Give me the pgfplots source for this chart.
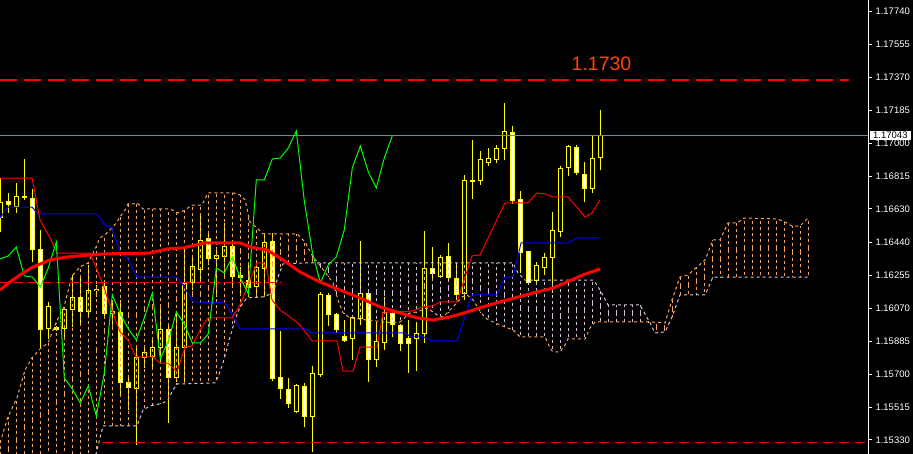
\documentclass[border=0pt]{standalone}
\usepackage{fontspec}
\setmainfont{Liberation Sans}
\usepackage{pgfplots}
\pgfplotsset{compat=1.18}
\usepackage{pgfplotstable}

\definecolor{cyellow}{RGB}{255,255,0}
\definecolor{sandy}{RGB}{244,164,96}
\definecolor{thist}{RGB}{216,191,216}
\definecolor{pgray}{RGB}{119,136,153}
\definecolor{lblred}{RGB}{255,69,0}
\definecolor{cgreen}{RGB}{0,255,0}
\definecolor{cblue}{RGB}{0,0,255}
\definecolor{cred}{RGB}{255,0,0}

% k O H L C  (bullish candles)
\pgfplotstableread{
k O H L C
0 1.16585 1.16804 1.16501 1.16669
2 1.16647 1.16776 1.16607 1.16698
3 1.16698 1.16911 1.16681 1.16703
6 1.15955 1.16107 1.15899 1.16084
8 1.15960 1.16079 1.15893 1.16067
9 1.16067 1.16259 1.15966 1.16135
11 1.16056 1.16315 1.16017 1.16169
12 1.16174 1.16202 1.16135 1.16180
14 1.16045 1.16118 1.15977 1.16056
17 1.15623 1.15853 1.15302 1.15797
18 1.15797 1.15853 1.15735 1.15825
19 1.15797 1.15910 1.15741 1.15853
20 1.15853 1.16090 1.15763 1.15955
22 1.15685 1.16050 1.15656 1.15853
23 1.15853 1.16416 1.15651 1.16214
24 1.16214 1.16371 1.16174 1.16309
25 1.16292 1.16607 1.16214 1.16456
27 1.16349 1.16416 1.16135 1.16366
28 1.16360 1.16551 1.16247 1.16416
32 1.16191 1.16332 1.16135 1.16298
33 1.16298 1.16495 1.16135 1.16444
37 1.15488 1.15645 1.15482 1.15634
39 1.15465 1.15747 1.15263 1.15707
40 1.15696 1.16163 1.15685 1.16146
44 1.15899 1.16022 1.15780 1.16017
45 1.16017 1.16450 1.15977 1.16157
47 1.15786 1.15994 1.15741 1.15887
48 1.15882 1.16135 1.15837 1.16050
52 1.15904 1.15994 1.15718 1.15927
53 1.15927 1.16506 1.15876 1.16298
55 1.16253 1.16371 1.16242 1.16360
58 1.16152 1.16821 1.16118 1.16793
59 1.16788 1.17018 1.16686 1.16793
60 1.16788 1.16956 1.16765 1.16911
61 1.16894 1.16973 1.16872 1.16917
62 1.16911 1.16990 1.16889 1.16973
63 1.16973 1.17226 1.16906 1.17069
67 1.16230 1.16332 1.16208 1.16315
68 1.16304 1.16382 1.16259 1.16360
69 1.16360 1.16613 1.16157 1.16512
70 1.16506 1.16872 1.16472 1.16861
71 1.16861 1.16990 1.16816 1.16984
74 1.16748 1.17041 1.16720 1.16917
75 1.16917 1.17187 1.16849 1.17043
}\bull

% k O H L C  (bearish candles)
\pgfplotstableread{
k O H L C
1 1.16675 1.16720 1.16607 1.16658
4 1.16692 1.16743 1.16332 1.16405
5 1.16405 1.16512 1.15848 1.15955
7 1.15966 1.15972 1.15944 1.15955
10 1.16135 1.16259 1.15977 1.16056
13 1.16191 1.16214 1.16028 1.16039
15 1.16045 1.16118 1.15572 1.15656
16 1.15656 1.15685 1.15499 1.15623
21 1.15955 1.15989 1.15426 1.15685
26 1.16461 1.16501 1.16315 1.16349
29 1.16422 1.16456 1.16202 1.16253
30 1.16259 1.16304 1.16157 1.16247
31 1.16230 1.16315 1.16135 1.16191
34 1.16450 1.16495 1.15662 1.15679
35 1.15679 1.15944 1.15561 1.15617
36 1.15617 1.15679 1.15510 1.15538
38 1.15634 1.15651 1.15403 1.15465
41 1.16146 1.16157 1.15972 1.16039
42 1.16039 1.16045 1.15932 1.15955
43 1.15910 1.16005 1.15882 1.15893
46 1.16157 1.16163 1.15656 1.15786
49 1.16045 1.16050 1.15910 1.15983
50 1.15977 1.15983 1.15831 1.15876
51 1.15904 1.16005 1.15707 1.15876
54 1.16298 1.16416 1.16230 1.16270
56 1.16360 1.16439 1.16219 1.16242
57 1.16242 1.16326 1.16118 1.16152
64 1.17063 1.17097 1.16658 1.16675
65 1.16681 1.16731 1.16270 1.16388
66 1.16388 1.16391 1.16208 1.16214
72 1.16979 1.16990 1.16821 1.16838
73 1.16827 1.16894 1.16669 1.16748
}\bear

% Ichimoku cloud per bar: k SpanA SpanB  (A above B)
\pgfplotstableread{
k A B
0 1.15320 1.15100
1 1.15460 1.15100
2 1.15560 1.15100
3 1.15710 1.15100
4 1.15792 1.15100
5 1.15842 1.15100
6 1.15876 1.15100
7 1.15989 1.15100
8 1.16079 1.15100
9 1.16253 1.15100
10 1.16304 1.15100
11 1.16326 1.15100
12 1.16416 1.15258
13 1.16480 1.15409
14 1.16523 1.15409
15 1.16585 1.15409
16 1.16658 1.15409
17 1.16663 1.15409
18 1.16630 1.15503
19 1.16630 1.15524
20 1.16630 1.15534
21 1.16630 1.15555
22 1.16612 1.15640
23 1.16622 1.15648
24 1.16652 1.15648
25 1.16652 1.15648
26 1.16720 1.15648
27 1.16720 1.15660
28 1.16720 1.15790
29 1.16720 1.15960
30 1.16709 1.16079
31 1.16598 1.16129
32 1.16523 1.16132
33 1.16490 1.16135
34 1.16490 1.16150
35 1.16490 1.16290
36 1.16490 1.16326
37 1.16490 1.16326
38 1.16448 1.16326
39 1.16368 1.16326
82 1.15992 1.15940
83 1.15989 1.15938
84 1.16118 1.16022
85 1.16247 1.16146
86 1.16259 1.16146
87 1.16304 1.16146
88 1.16343 1.16146
89 1.16456 1.16247
90 1.16456 1.16247
91 1.16551 1.16247
92 1.16551 1.16247
93 1.16579 1.16247
94 1.16578 1.16247
95 1.16578 1.16247
96 1.16578 1.16247
97 1.16576 1.16247
98 1.16557 1.16247
99 1.16534 1.16247
100 1.16534 1.16247
101 1.16579 1.16247
}\cloudO

% Ichimoku cloud per bar: k SpanA SpanB  (B above A)
\pgfplotstableread{
k A B
40 1.16300 1.16326
41 1.16250 1.16326
42 1.16150 1.16326
43 1.16040 1.16326
44 1.16016 1.16326
45 1.16010 1.16326
46 1.16004 1.16326
47 1.16000 1.16326
48 1.15995 1.16326
49 1.15990 1.16326
50 1.15994 1.16326
51 1.16037 1.16326
52 1.16050 1.16326
53 1.16067 1.16326
54 1.16052 1.16326
55 1.16027 1.16326
56 1.16050 1.16326
57 1.16105 1.16326
58 1.16140 1.16326
59 1.16121 1.16326
60 1.16050 1.16326
61 1.16008 1.16326
62 1.15985 1.16326
63 1.15966 1.16326
64 1.15949 1.16326
65 1.15910 1.16235
66 1.15910 1.16230
67 1.15910 1.16230
68 1.15910 1.16230
69 1.15830 1.16230
70 1.15825 1.16230
71 1.15899 1.16230
72 1.15899 1.16230
73 1.15899 1.16230
74 1.15975 1.16230
75 1.15994 1.16174
76 1.15994 1.16090
77 1.15994 1.16090
78 1.15994 1.16090
79 1.15994 1.16090
80 1.15994 1.16090
81 1.15994 1.16000
}\cloudT

\pgfplotsset{
  wick/.style={draw=none, mark=none, forget plot,
    error bars/.cd, y dir=both, y explicit, error mark=none,
    error bar style={draw=cyellow, line width=1pt, solid}},
  bodyout/.style={draw=none, mark=none, forget plot,
    error bars/.cd, y dir=both, y explicit, error mark=none,
    error bar style={draw=cyellow, line width=5pt, solid}},
  bodyin/.style={draw=none, mark=none, forget plot,
    error bars/.cd, y dir=both, y explicit, error mark=none,
    error bar style={draw=#1, line width=3pt, solid}},
  cloudbar/.style={draw=none, mark=none, forget plot,
    error bars/.cd, y dir=both, y explicit, error mark=none,
    error bar style={draw=#1, line width=1pt, dash pattern=on 3pt off 3pt}},
}

\begin{document}
\begin{tikzpicture}
\fill[black] (0,0) rectangle (913pt,454pt);
\begin{axis}[
  at={(0pt,0pt)}, anchor=south west,
  scale only axis, width=868pt, height=454pt,
  xmin=-0.0375, xmax=108.46, ymin=1.15251, ymax=1.17806,
  axis x line=none, axis y line*=right,
  axis line style={white, line width=1pt},
  ytick={1.15330,1.15515,1.15700,1.15885,1.16070,1.16255,1.16440,1.16630,1.16815,1.17000,1.17185,1.17370,1.17555,1.17740},
  scaled y ticks=false,
  yticklabel style={text=white, font=\fontsize{9.5}{10}\selectfont,
    /pgf/number format/fixed, /pgf/number format/fixed zerofill,
    /pgf/number format/precision=5, /pgf/number format/assume math mode=true},
  major tick length=4pt, tick align=outside,
  ytick style={white, line width=1pt},
  clip=true,
]
% ---- candles
\addplot[wick] table[x=k, y expr={(\thisrow{H}+\thisrow{L})/2}, y error expr={(\thisrow{H}-\thisrow{L})/2}] {\bull};
\addplot[wick] table[x=k, y expr={(\thisrow{H}+\thisrow{L})/2}, y error expr={(\thisrow{H}-\thisrow{L})/2}] {\bear};
\addplot[bodyout] table[x=k, y expr={(\thisrow{O}+\thisrow{C})/2}, y error expr={abs(\thisrow{C}-\thisrow{O})/2+0.0000281}] {\bull};
\addplot[bodyout] table[x=k, y expr={(\thisrow{O}+\thisrow{C})/2}, y error expr={abs(\thisrow{C}-\thisrow{O})/2+0.0000281}] {\bear};
\addplot[bodyin=black] table[x=k, y expr={(\thisrow{O}+\thisrow{C})/2}, y error expr={max(abs(\thisrow{C}-\thisrow{O})/2-0.0000281,0)}] {\bull};
\addplot[bodyin=white] table[x=k, y expr={(\thisrow{O}+\thisrow{C})/2}, y error expr={max(abs(\thisrow{C}-\thisrow{O})/2-0.0000281,0)}] {\bear};

% ---- Ichimoku cloud hatching (one dashed bar per period)
\addplot[cloudbar=sandy] table[x=k, y expr={(\thisrow{A}+\thisrow{B})/2}, y error expr={abs(\thisrow{A}-\thisrow{B})/2}] {\cloudO};
\addplot[cloudbar=thist] table[x=k, y expr={(\thisrow{A}+\thisrow{B})/2}, y error expr={abs(\thisrow{A}-\thisrow{B})/2}] {\cloudT};

% ---- Senkou span A and B
\addplot[sandy, line width=1pt, dash pattern=on 3pt off 3pt] coordinates {
(-0.04,1.15313) (0.96,1.15460) (2.09,1.15567) (3.09,1.15724) (3.96,1.15792) (4.96,1.15842) (5.96,1.15876) (6.96,1.15989) (7.96,1.16079) (8.96,1.16253) (9.96,1.16304) (10.96,1.16326) (11.96,1.16416) (12.46,1.16467) (13.09,1.16484) (13.96,1.16523) (14.59,1.16557) (14.96,1.16585) (15.59,1.16624) (15.96,1.16658) (16.59,1.16658) (17.09,1.16664) (17.84,1.16630) (21.21,1.16630) (22.21,1.16607) (23.09,1.16624) (23.96,1.16652) (25.21,1.16652) (25.96,1.16720) (29.09,1.16720) (29.96,1.16709) (30.59,1.16681) (31.21,1.16557) (32.09,1.16523) (32.84,1.16490) (37.09,1.16490) (38.09,1.16444) (39.09,1.16360) (39.71,1.16326) (40.59,1.16275) (41.59,1.16214) (42.21,1.16118) (42.84,1.16045) (43.71,1.16017) (45.84,1.16005) (49.09,1.15989) (49.96,1.15994) (51.21,1.16045) (52.09,1.16050) (53.34,1.16073) (54.59,1.16034) (55.34,1.16022) (55.96,1.16050) (56.84,1.16090) (57.71,1.16135) (58.34,1.16146) (59.09,1.16118) (59.71,1.16073) (60.59,1.16017) (61.59,1.15994) (63.09,1.15966) (64.09,1.15949) (64.96,1.15910) (68.09,1.15910) (68.71,1.15848) (69.09,1.15825) (69.96,1.15825) (70.59,1.15865) (70.96,1.15899) (73.09,1.15899) (73.71,1.15960) (74.34,1.15994) (81.21,1.15994) (83.09,1.15989) (83.96,1.16118) (84.96,1.16247) (85.96,1.16259) (87.09,1.16304) (88.09,1.16343) (89.09,1.16456) (89.96,1.16456) (90.96,1.16551) (92.09,1.16551) (92.96,1.16579) (97.09,1.16574) (98.09,1.16557) (98.96,1.16534) (99.96,1.16534) (100.96,1.16579)
};
\addplot[thist, line width=1pt, dash pattern=on 3pt off 3pt] coordinates {
(-0.04,1.15105) (11.46,1.15161) (12.84,1.15409) (17.09,1.15409) (17.84,1.15499) (18.71,1.15521) (20.34,1.15538) (20.96,1.15555) (21.59,1.15612) (22.09,1.15645) (26.84,1.15651) (27.21,1.15685) (27.84,1.15763) (28.71,1.15910) (29.34,1.16005) (29.96,1.16079) (30.84,1.16129) (32.84,1.16135) (34.09,1.16157) (34.71,1.16247) (35.34,1.16321) (38.09,1.16326) (64.09,1.16326) (64.71,1.16270) (65.59,1.16230) (74.09,1.16230) (74.59,1.16202) (74.96,1.16174) (75.96,1.16090) (79.96,1.16090) (81.21,1.15989) (81.84,1.15932) (83.09,1.15938) (83.96,1.16022) (84.96,1.16146) (88.09,1.16146) (89.09,1.16247) (100.96,1.16247)
};

% ---- horizontal levels
\addplot[cred, line width=1pt, dash pattern=on 9pt off 5pt] coordinates {(-0.04,1.16214) (35.2,1.16214)};
\addplot[cred, line width=1pt, dash pattern=on 10pt off 6pt] coordinates {(12.84,1.15313) (108.5,1.15313)};
\addplot[cred, line width=1.5pt, dash pattern=on 17pt off 7pt] coordinates {(-0.04,1.17356) (106.09,1.17356)};
\addplot[pgray, line width=1pt] coordinates {(-0.04,1.17043) (108.5,1.17043)};

% ---- Tenkan-sen
\addplot[cblue, line width=1pt] coordinates {
(-0.04,1.16579) (0.96,1.16641) (3.96,1.16641) (4.71,1.16602) (12.09,1.16602) (13.09,1.16540) (13.96,1.16523) (14.96,1.16388) (15.96,1.16349) (17.09,1.16247) (22.09,1.16247) (22.84,1.16202) (24.09,1.16107) (28.09,1.16101) (28.96,1.16034) (29.96,1.15955) (38.09,1.15955) (38.96,1.15932) (50.59,1.15932) (51.21,1.15915) (52.71,1.15915) (53.96,1.15887) (57.09,1.15887) (58.96,1.16146) (62.09,1.16146) (63.09,1.16247) (64.09,1.16247) (65.09,1.16439) (70.96,1.16439) (72.09,1.16467) (74.96,1.16467)
};
% ---- Kijun-sen
\addplot[cred, line width=1pt] coordinates {
(-0.04,1.16804) (3.96,1.16804) (4.34,1.16720) (4.96,1.16568) (6.21,1.16467) (7.09,1.16382) (11.21,1.16382) (12.09,1.16287) (12.96,1.16191) (13.34,1.16135) (14.96,1.15938) (15.96,1.15893) (16.96,1.15797) (19.09,1.15797) (19.96,1.15763) (20.96,1.15763) (22.09,1.15713) (23.09,1.15853) (23.96,1.15859) (24.96,1.15949) (25.96,1.16017) (28.96,1.16017) (29.96,1.16090) (32.09,1.16326) (32.84,1.16326) (33.34,1.16287) (33.96,1.16118) (34.96,1.16062) (36.21,1.16022) (37.46,1.15977) (38.96,1.15887) (42.09,1.15887) (42.84,1.15718) (44.09,1.15718) (44.96,1.15853) (47.09,1.15853) (47.84,1.16050) (49.96,1.16050) (51.59,1.16056) (52.84,1.16079) (54.09,1.16084) (54.96,1.16107) (57.09,1.16107) (58.96,1.16366) (59.96,1.16371) (63.09,1.16664) (65.96,1.16664) (67.09,1.16720) (68.09,1.16714) (68.96,1.16698) (70.96,1.16698) (73.09,1.16585) (73.96,1.16607) (74.96,1.16681)
};
% ---- Chikou span
\addplot[cgreen, line width=1pt] coordinates {
(0,1.16349) (1,1.16366) (2,1.16416) (3,1.16253) (4,1.16247) (5,1.16191) (6,1.16298) (7,1.16444) (8,1.15679) (9,1.15617) (10,1.15538) (11,1.15634) (12,1.15465) (13,1.15707) (14,1.16146) (15,1.16039) (16,1.15955) (17,1.15893) (18,1.16017) (19,1.16157) (20,1.15786) (21,1.15887) (22,1.16050) (23,1.15983) (24,1.15876) (25,1.15876) (26,1.15927) (27,1.16298) (28,1.16270) (29,1.16360) (30,1.16242) (31,1.16152) (32,1.16793) (33,1.16793) (34,1.16911) (35,1.16917) (36,1.16973) (37,1.17069) (38,1.16675) (39,1.16388) (40,1.16214) (41,1.16315) (42,1.16360) (43,1.16512) (44,1.16861) (45,1.16984) (46,1.16838) (47,1.16748) (48,1.16917) (49,1.17043)
};
% ---- moving average
\addplot[cred, line width=3pt] coordinates {
(-0.04,1.16174) (1.21,1.16219) (2.46,1.16259) (4.09,1.16304) (6.21,1.16343) (8.34,1.16360) (11.21,1.16371) (13.09,1.16377) (18.71,1.16382) (20.84,1.16405) (22.84,1.16411) (25.59,1.16439) (29.96,1.16439) (31.21,1.16416) (33.34,1.16399) (35.34,1.16343) (37.46,1.16275) (39.96,1.16219) (42.46,1.16174) (44.96,1.16129) (47.46,1.16079) (49.96,1.16045) (52.09,1.16017) (54.09,1.16005) (56.21,1.16022) (58.34,1.16050) (60.34,1.16079) (62.46,1.16107) (66.59,1.16157) (69.09,1.16185) (70.84,1.16219) (72.84,1.16259) (74.96,1.16292)
};

\node[text=lblred, font=\fontsize{19.5}{20}\selectfont, inner sep=0pt] at (axis cs:75.15,1.17446) {1.1730};
\coordinate (cp) at (axis cs:108.46,1.17043);
\end{axis}
\node[fill=white, text=black, anchor=west, inner xsep=3pt, inner ysep=1.5pt,
  font=\fontsize{9.5}{10}\selectfont] at ([xshift=2pt]cp) {1.17043};
\pgfresetboundingbox
\useasboundingbox (0,0) rectangle (913pt,454pt);
\end{tikzpicture}
\end{document}
